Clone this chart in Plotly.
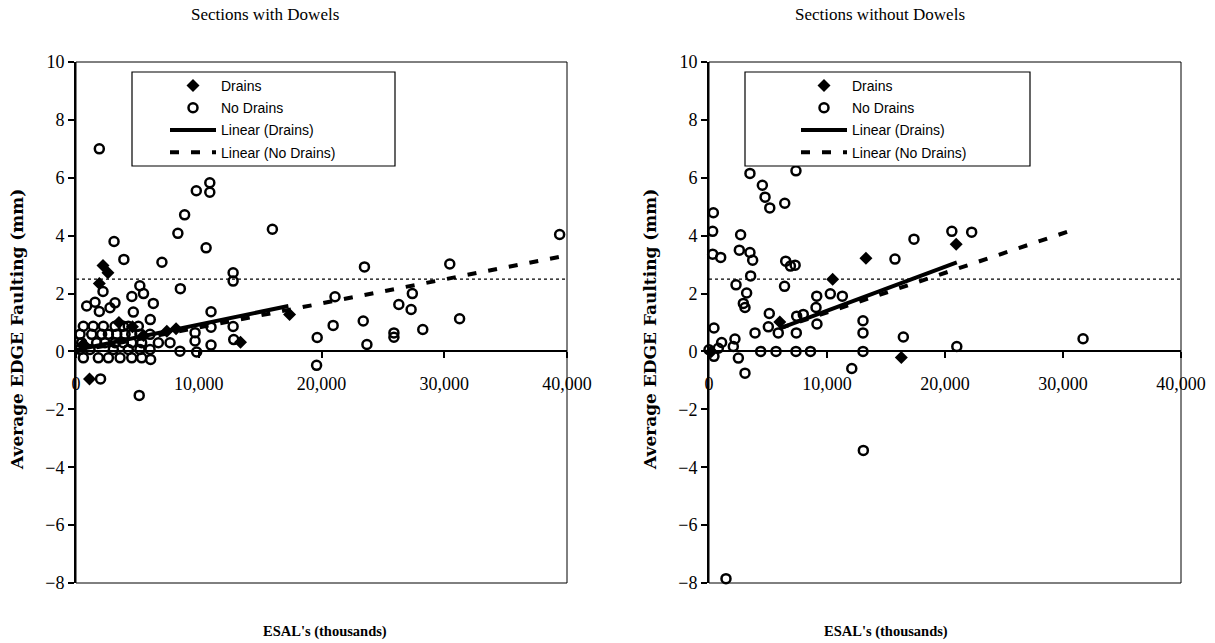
import plotly.graph_objects as go

# ---------------- data ----------------
panel_titles = ["Sections with Dowels", "Sections without Dowels"]
x_title = "ESAL's (thousands)"
y_title = "Average EDGE Faulting (mm)"
series_names = ["Drains", "No Drains", "Linear (Drains)", "Linear (No Drains)"]
y_ticks = [10, 8, 6, 4, 2, 0, -2, -4, -6, -8]
x_ticks = [0, 10000, 20000, 30000, 40000]
threshold = 2.5

# Sections with dowels
dw_drains_x = [1100, 1900, 2200, 2600, 13400, 17400, 7400, 8150, 3500, 4600, 600, 5500]
dw_drains_y = [-0.95, 2.35, 2.97, 2.72, 0.32, 1.28, 0.70, 0.78, 1.00, 0.85, 0.25, 0.55]

dw_nodrains_x = [1900, 9800, 10900, 10900, 8850, 8300, 16000, 10600, 3100, 3900, 7000,
                 12800, 12800, 2200, 8500, 5200, 5500, 4550, 6300, 3180, 870, 1550, 1900,
                 2770, 4670, 11000, 6050,
                 600, 1400, 2230, 3180, 3860, 4260, 5080,
                 330, 1280, 2090, 2640, 3320, 4000, 4540, 5210, 6030,
                 460, 1680, 2360, 3180, 3860, 4540, 5350, 6710, 7660,
                 330, 1140, 3040, 4260, 5210, 6030, 8470, 9830,
                 600, 1820, 2640, 3590, 4540, 5350, 6080,
                 12800, 11000, 9700, 9700, 11000, 12850, 2000, 5150,
                 19650, 19600, 20950, 21100, 23500, 23400, 23700, 25900, 25900,
                 26300, 27400, 27300, 28250, 30450, 31250, 39400]
dw_nodrains_y = [7.00, 5.55, 5.83, 5.50, 4.72, 4.08, 4.22, 3.58, 3.80, 3.18, 3.08,
                 2.72, 2.43, 2.07, 2.17, 2.27, 2.00, 1.90, 1.66, 1.68, 1.57, 1.70, 1.38,
                 1.51, 1.36, 1.37, 1.10,
                 0.87, 0.87, 0.87, 0.87, 0.87, 0.87, 0.87,
                 0.59, 0.59, 0.59, 0.59, 0.59, 0.59, 0.59, 0.59, 0.59,
                 0.30, 0.30, 0.30, 0.30, 0.30, 0.30, 0.30, 0.30, 0.30,
                 0.07, 0.07, 0.07, 0.07, 0.07, 0.07, 0.01, -0.02,
                 -0.22, -0.22, -0.22, -0.22, -0.22, -0.22, -0.28,
                 0.86, 0.84, 0.65, 0.36, 0.22, 0.41, -0.95, -1.52,
                 0.48, -0.48, 0.90, 1.89, 2.92, 1.05, 0.24, 0.64, 0.49,
                 1.62, 2.00, 1.45, 0.76, 3.02, 1.13, 4.04]

dw_fit_drains_x = [0, 17300]
dw_fit_drains_y = [0.05, 1.57]
dw_fit_nodrains_x = [0, 40000]
dw_fit_nodrains_y = [0.00, 3.32]

# Sections without dowels
nd_drains_x = [200, 6000, 10480, 13300, 16300, 20950]
nd_drains_y = [0.00, 1.02, 2.49, 3.22, -0.21, 3.70]

nd_nodrains_x = [3470, 7370, 4520, 4750, 5150, 6420, 370, 310, 2680, 310, 990, 2570,
                 3470, 3700, 6500, 6900, 7300, 6400, 3530, 2290, 3190, 2910, 3050, 5110,
                 420, 3900, 5030, 5870, 7400, 1070, 2200, 2060, 0, 420, 790, 2490, 3050,
                 4380, 5680, 7370, 8600, 13050, 12100, 21000, 16470, 13050, 13050, 9150,
                 9130, 9070, 10280, 11300, 15760, 17370, 20580, 22260, 7430, 7990, 31700,
                 1440, 13080]
nd_nodrains_y = [6.15, 6.24, 5.74, 5.33, 4.96, 5.12, 4.79, 4.15, 4.03, 3.36, 3.25, 3.50,
                 3.42, 3.15, 3.12, 2.95, 2.98, 2.25, 2.61, 2.30, 2.02, 1.66, 1.52, 1.31,
                 0.81, 0.64, 0.85, 0.64, 0.64, 0.31, 0.43, 0.17, 0.06, -0.17, 0.11, -0.23, -0.75,
                 0.00, 0.00, 0.00, 0.00, 0.00, -0.59, 0.17, 0.50, 1.06, 0.64, 0.95,
                 1.91, 1.52, 1.99, 1.91, 3.19, 3.88, 4.15, 4.12, 1.22, 1.28, 0.44,
                 -7.85, -3.42]

nd_fit_drains_x = [6000, 21000]
nd_fit_drains_y = [0.80, 3.08]
nd_fit_nodrains_x = [6000, 31000]
nd_fit_nodrains_y = [0.80, 4.22]

# ---------------- layout geometry ----------------
W, H = 1215, 643
X_DOMS = [[76 / W, 567 / W], [709 / W, 1181 / W]]
Y_DOM = [1 - 583 / H, 1 - 62 / H]
YMIN, YMAX = -8, 10
XMIN, XMAX = 0, 40000
zero_pos = Y_DOM[0] + (0 - YMIN) / (YMAX - YMIN) * (Y_DOM[1] - Y_DOM[0])

SERIF = "Liberation Serif"
SANS = "Liberation Sans"

fig = go.Figure()

panels = [
    (dw_drains_x, dw_drains_y, dw_nodrains_x, dw_nodrains_y,
     dw_fit_drains_x, dw_fit_drains_y, dw_fit_nodrains_x, dw_fit_nodrains_y),
    (nd_drains_x, nd_drains_y, nd_nodrains_x, nd_nodrains_y,
     nd_fit_drains_x, nd_fit_drains_y, nd_fit_nodrains_x, nd_fit_nodrains_y),
]

for i, (dx, dy, nx, ny, fdx, fdy, fnx, fny) in enumerate(panels):
    xa = "x" if i == 0 else "x2"
    ya = "y" if i == 0 else "y2"
    lg = "legend" if i == 0 else "legend2"
    fig.add_trace(go.Scatter(
        x=fnx, y=fny, mode="lines", name=series_names[3], xaxis=xa, yaxis=ya,
        line=dict(color="black", width=4, dash="9px,12px"), legend=lg,
        legendgroup=f"g{i}d", legendrank=4, cliponaxis=False))
    fig.add_trace(go.Scatter(
        x=fdx, y=fdy, mode="lines", name=series_names[2], xaxis=xa, yaxis=ya,
        line=dict(color="black", width=4), legend=lg,
        legendgroup=f"g{i}c", legendrank=3))
    fig.add_trace(go.Scatter(
        x=nx, y=ny, mode="markers", name=series_names[1], xaxis=xa, yaxis=ya,
        marker=dict(symbol="circle-open", size=9, color="black", line=dict(width=2.5, color="black")),
        legend=lg, legendgroup=f"g{i}b", legendrank=2, cliponaxis=False))
    fig.add_trace(go.Scatter(
        x=dx, y=dy, mode="markers", name=series_names[0], xaxis=xa, yaxis=ya,
        marker=dict(symbol="diamond", size=10, color="black"),
        legend=lg, legendgroup=f"g{i}a", legendrank=1, cliponaxis=False))

axis_font = dict(family=SERIF, size=18, color="black")
for i in range(2):
    xk = "xaxis" if i == 0 else "xaxis2"
    yk = "yaxis" if i == 0 else "yaxis2"
    xa = "x" if i == 0 else "x2"
    fig.update_layout(**{
        xk: dict(domain=X_DOMS[i], range=[XMIN, XMAX], tickvals=x_ticks, tickformat=",",
                 anchor="free", position=zero_pos, showgrid=False, zeroline=False,
                 showline=True, linecolor="black", linewidth=1.8, automargin=False,
                 ticks="outside", ticklen=6, tickwidth=1.5, tickcolor="black",
                 ticklabelstandoff=10, tickfont=axis_font),
        yk: dict(domain=Y_DOM, range=[YMIN, YMAX], tickvals=y_ticks, anchor=xa,
                 showgrid=False, zeroline=False, showline=True, linecolor="black",
                 linewidth=2, ticks="outside", ticklen=6, tickwidth=1.5, tickcolor="black",
                 automargin=False, tickfont=axis_font),
    })

shapes = []
for i in range(2):
    xr = "x" if i == 0 else "x2"
    yr = "y" if i == 0 else "y2"
    # plot frame
    shapes.append(dict(type="rect", xref=f"{xr} domain", yref=f"{yr} domain",
                       x0=0, x1=1, y0=0, y1=1, line=dict(color="black", width=1)))
    # dotted threshold line
    shapes.append(dict(type="line", xref=f"{xr} domain", yref=yr, x0=0, x1=1,
                       y0=threshold, y1=threshold, line=dict(color="black", width=1.3, dash="dot")))
# legend boxes
for bx0, bx1 in [(132, 395), (745, 1030)]:
    shapes.append(dict(type="rect", xref="paper", yref="paper", x0=bx0 / W, x1=bx1 / W,
                       y0=1 - 166 / H, y1=1 - 72 / H, line=dict(color="black", width=1.2),
                       fillcolor="white", layer="above"))

annotations = []
for (cx, txt) in [(265, panel_titles[0]), (880, panel_titles[1])]:
    annotations.append(dict(x=cx / W, y=1 - 15 / H, xref="paper", yref="paper", text=txt,
                            showarrow=False, xanchor="center", yanchor="middle",
                            font=dict(family=SERIF, size=17, color="black")))
for cx in [325, 886]:
    annotations.append(dict(x=cx / W, y=1 - 631 / H, xref="paper", yref="paper",
                            text=f"<b>{x_title}</b>", showarrow=False,
                            xanchor="center", yanchor="middle",
                            font=dict(family=SERIF, size=14.5, color="black")))
for cx in [17, 650]:
    annotations.append(dict(x=cx / W, y=1 - 330 / H, xref="paper", yref="paper",
                            text=f"<b>{y_title}</b>", showarrow=False, textangle=-90,
                            xanchor="center", yanchor="middle",
                            font=dict(family="DejaVu Serif", size=17, color="black")))

leg_common = dict(xanchor="left", yanchor="top", bgcolor="rgba(0,0,0,0)", borderwidth=0,
                  font=dict(family=SANS, size=14, color="black"), tracegroupgap=1,
                  traceorder="grouped", itemwidth=46)
fig.update_layout(
    template="none",
    width=W, height=H, margin=dict(l=0, r=0, t=0, b=0, pad=0, autoexpand=False),
    paper_bgcolor="white", plot_bgcolor="white",
    showlegend=True,
    legend=dict(x=165 / W, y=1 - 70 / H, **leg_common),
    legend2=dict(x=796 / W, y=1 - 70 / H, **leg_common),
    shapes=shapes, annotations=annotations,
)

fig.write_html("out.html")
